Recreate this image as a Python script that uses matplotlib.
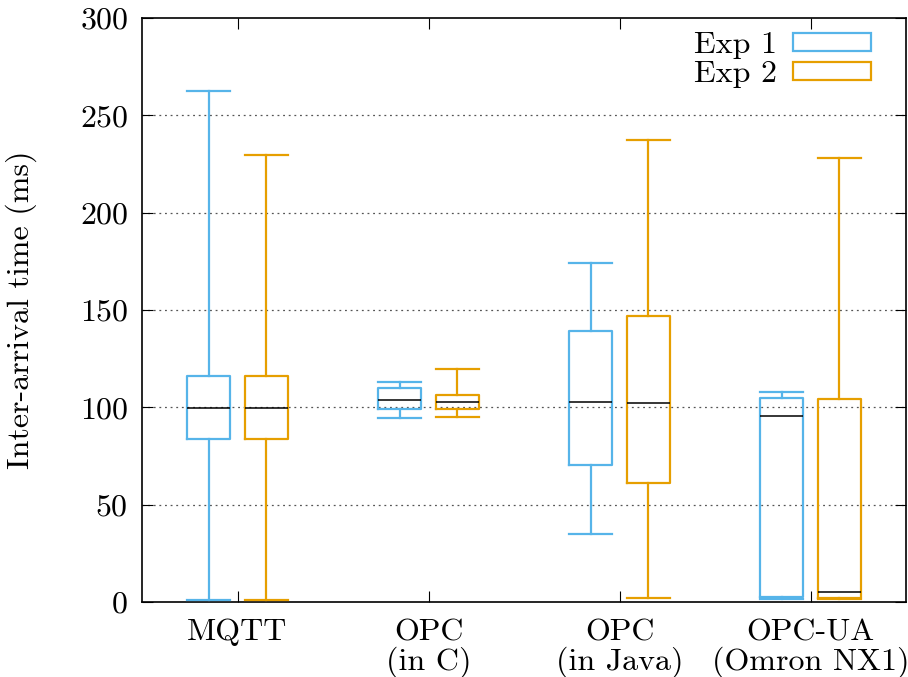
import matplotlib
matplotlib.use("Agg")
import matplotlib.pyplot as plt
from matplotlib.patches import Patch

plt.rcParams['font.family'] = ['cmr10', 'DejaVu Serif']
plt.rcParams['axes.formatter.use_mathtext'] = True
plt.rcParams['mathtext.fontset'] = 'cm'

categories = ["MQTT", "OPC\n(in C)", "OPC\n(in Java)", "OPC-UA\n(Omron NX1)"]
series_names = ["Exp 1", "Exp 2"]

# whisker low, Q1, median, Q3, whisker high
exp1_whislo = [1.0, 94.7, 34.9, 1.7]
exp1_q1 = [83.7, 99.3, 70.2, 2.6]
exp1_med = [99.8, 103.6, 102.9, 95.7]
exp1_q3 = [116.2, 110.0, 139.3, 105.0]
exp1_whishi = [262.5, 113.2, 174.0, 108.0]

exp2_whislo = [1.0, 95.0, 2.0, 1.5]
exp2_q1 = [83.7, 99.3, 61.3, 1.9]
exp2_med = [99.8, 102.7, 102.4, 5.0]
exp2_q3 = [116.2, 106.5, 147.0, 104.3]
exp2_whishi = [229.6, 119.8, 237.3, 228.0]

colors = ["#56B4E9", "#E69F00"]
FS = 23

fig = plt.figure(figsize=(9.08, 6.77), dpi=100)
ax = fig.add_axes([0.1564, 0.1108, 0.8414, 0.8626])

def stats(lo, q1, med, q3, hi):
    return [dict(whislo=a, q1=b, med=c, q3=d, whishi=e, fliers=[])
            for a, b, c, d, e in zip(lo, q1, med, q3, hi)]

series = [
    stats(exp1_whislo, exp1_q1, exp1_med, exp1_q3, exp1_whishi),
    stats(exp2_whislo, exp2_q1, exp2_med, exp2_q3, exp2_whishi),
]
offsets = [-0.15, 0.15]
width = 0.225
for s, off, col in zip(series, offsets, colors):
    pos = [i + 1 + off for i in range(len(categories))]
    lw = 1.6
    ax.bxp(s, positions=pos, widths=width, showfliers=False,
           boxprops=dict(color=col, linewidth=lw),
           whiskerprops=dict(color=col, linewidth=lw),
           capprops=dict(color=col, linewidth=lw),
           medianprops=dict(color="black", linewidth=1.1),
           capwidths=width, manage_ticks=False, zorder=3)

ax.set_xlim(0.5, 4.5)
ax.set_ylim(0, 300)
ax.set_xticks(range(1, len(categories) + 1))
ax.set_xticklabels(categories, fontsize=FS, linespacing=1.0)
ax.set_yticks(range(0, 301, 50))
ax.tick_params(axis='y', labelsize=FS, direction='in', right=True, length=8, pad=10)
ax.tick_params(axis='x', direction='in', top=True, length=8, pad=12)
ax.set_ylabel("Inter-arrival time (ms)", fontsize=FS)
ax.yaxis.set_label_coords(-0.137, 0.5)

for yv in range(50, 300, 50):
    ax.axhline(yv, color="#555555", linestyle=(0, (1.5, 3)), linewidth=0.9, zorder=1)

for sp in ax.spines.values():
    sp.set_linewidth(1.2)

handles = [Patch(facecolor="none", edgecolor=c, linewidth=1.6, label=n)
           for c, n in zip(colors, series_names)]
ax.legend(handles=handles, loc="upper right", markerfirst=False, frameon=False,
          fontsize=FS, handlelength=2.45, handleheight=0.47, labelspacing=0.05,
          handletextpad=0.5, borderaxespad=0, borderpad=0,
          bbox_to_anchor=(0.954, 0.976))

fig.savefig("out.png", dpi=100)
